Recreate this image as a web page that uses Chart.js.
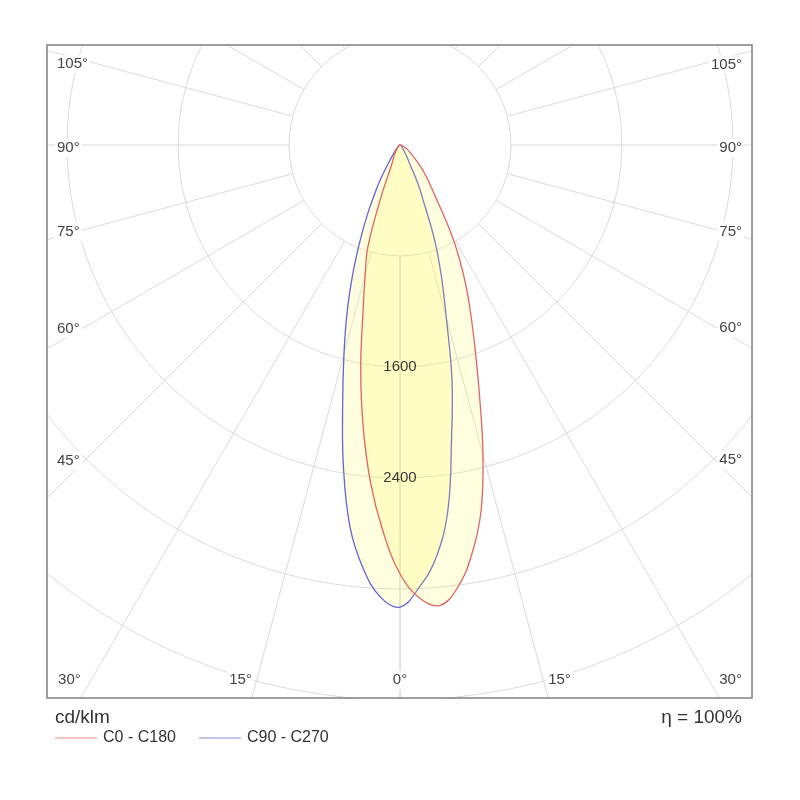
<!DOCTYPE html>
<html>
<head>
<meta charset="utf-8">
<script src="https://cdn.jsdelivr.net/npm/chart.js@4"></script>
<style>
  html, body { margin: 0; padding: 0; background: #fff; }
  #wrap { width: 800px; height: 800px; }
</style>
</head>
<body>
<div id="wrap"><canvas id="polar" width="800" height="800"></canvas></div>
<script>
// Diagrama polar de intensidad luminosa (cd/klm)

// angulos gamma (negativo = lado izquierdo)
const gammaAngles = [-90, -75, -60, -45, -40, -35, -30, -27.5, -25, -22.5, -20, -17.5, -15, -12.5, -10, -7.5, -5, -2.5,
                     0, 2.5, 5, 7.5, 10, 12.5, 15, 17.5, 20, 22.5, 25, 27.5, 30, 35, 40, 45, 60, 75, 90];

// C0 - C180 (rojo)
const c0c180 = [0, 5, 10, 20, 30, 50, 80, 100, 120, 170, 400, 770, 970, 1230, 1630, 2040, 2440, 2790,
                3090, 3270, 3330, 3210, 2990, 2700, 2310, 1910, 1590, 1340, 1130, 930, 740, 430, 290, 190, 60, 15, 0];

// C90 - C270 (azul)
const c90c270 = [0, 5, 10, 25, 50, 100, 270, 390, 560, 760, 1000, 1270, 1560, 1910, 2350, 2770, 3060, 3260,
                 3330, 3190, 2985, 2650, 2140, 1730, 1290, 990, 730, 450, 300, 150, 100, 50, 30, 20, 10, 5, 0];

const seriesNames = ['C0 - C180', 'C90 - C270'];
const seriesColors = ['#e06464', '#6464d8'];

// anillos y radios de la rejilla
const ringValues = [800, 1600, 2400, 3200, 4000, 4800];
const ringLabels = [1600, 2400];
const rayAngles = [0, 15, 30, 45, 60, 75, 90, 105, 120, 135, 150, 165, 180];
const rayLabels = [0, 15, 30, 45, 60, 75, 90, 105];

const unitLabel = 'cd/klm';
const efficiencyLabel = 'η = 100%';

// escala: 800 cd = 111 px, centro en (400,145)
const cdPerPx = 800 / 111;
const box = { left: 47, top: 45, right: 752, bottom: 698 };
const centre = { x: 400, y: 145 };

function toPoints(values) {
    return gammaAngles.map((g, i) => {
        const t = g * Math.PI / 180;
        return { x: values[i] * Math.sin(t), y: -values[i] * Math.cos(t) };
    });
}

const font = '"Liberation Sans", Arial, sans-serif';

const polarGrid = {
    id: 'polarGrid',
    beforeDatasetsDraw(chart) {
        const { ctx, chartArea: a, scales: { x, y } } = chart;
        const cx = x.getPixelForValue(0);
        const cy = y.getPixelForValue(0);
        const px = v => x.getPixelForValue(v) - cx;

        ctx.save();
        ctx.beginPath();
        ctx.rect(a.left, a.top, a.right - a.left, a.bottom - a.top);
        ctx.clip();
        ctx.strokeStyle = '#dadada';
        ctx.lineWidth = 1;

        // circulos
        ringValues.forEach(v => {
            ctx.beginPath();
            ctx.arc(cx, cy, px(v), 0, Math.PI * 2);
            ctx.stroke();
        });

        // radios desde el primer anillo
        const r0 = px(ringValues[0]);
        const r1 = px(ringValues[ringValues.length - 1]) * 2;
        rayAngles.forEach(d => {
            [-1, 1].forEach(s => {
                const t = d * Math.PI / 180;
                const dx = s * Math.sin(t), dy = Math.cos(t);
                ctx.beginPath();
                ctx.moveTo(cx + dx * r0, cy + dy * r0);
                ctx.lineTo(cx + dx * r1, cy + dy * r1);
                ctx.stroke();
            });
        });
        ctx.restore();
    },
    afterDatasetsDraw(chart) {
        const { ctx, chartArea: a, scales: { x, y } } = chart;
        const cx = x.getPixelForValue(0);
        const cy = y.getPixelForValue(0);
        const px = v => x.getPixelForValue(v) - cx;

        ctx.save();

        // etiquetas de intensidad
        ctx.font = '15px ' + font;
        ctx.fillStyle = '#383838';
        ctx.textAlign = 'center';
        ctx.textBaseline = 'middle';
        ringLabels.forEach(v => ctx.fillText(String(v), cx, cy + px(v)));

        // etiquetas de angulo
        ctx.font = '15px ' + font;
        rayLabels.forEach(d => {
            const sides = d === 0 ? [1] : [-1, 1];
            sides.forEach(s => {
                const t = d * Math.PI / 180;
                const sn = Math.sin(t), cs = Math.cos(t);
                const sideDist = s < 0 ? cx - a.left : a.right - cx;
                const tSide = sn > 0 ? sideDist / sn : Infinity;
                const tBottom = cs > 0 ? (a.bottom - cy) / cs : Infinity;
                let lx, ly, align;
                if (tBottom <= tSide) {
                    lx = cx + s * sn * tBottom;
                    ly = a.bottom - 18;
                    align = d === 0 ? 'center' : (s < 0 ? 'right' : 'left');
                } else {
                    const tt = (sideDist - 40) / sn;
                    ly = cy + cs * tt + 3;
                    lx = s < 0 ? a.left + 10 : a.right - 10;
                    align = s < 0 ? 'left' : 'right';
                }
                const txt = d + '°';
                const w = ctx.measureText(txt).width;
                const bx = align === 'left' ? lx : align === 'right' ? lx - w : lx - w / 2;
                ctx.fillStyle = '#ffffff';
                ctx.fillRect(bx - 2, ly - 9, w + 4, 18);
                ctx.fillStyle = '#444444';
                ctx.textAlign = align;
                ctx.fillText(txt, lx, ly);
            });
        });

        // marco
        ctx.strokeStyle = '#808080';
        ctx.lineWidth = 1.5;
        ctx.strokeRect(a.left, a.top, a.right - a.left, a.bottom - a.top);

        // unidades y rendimiento
        ctx.fillStyle = '#333333';
        ctx.font = '19px ' + font;
        ctx.textAlign = 'left';
        ctx.fillText(unitLabel, a.left + 8, a.bottom + 20);
        ctx.textAlign = 'right';
        ctx.fillText(efficiencyLabel, a.right - 10, a.bottom + 20);

        // leyenda
        ctx.font = '16px ' + font;
        ctx.textAlign = 'left';
        const legendY = a.bottom + 40;
        let lx = a.left + 8;
        chart.data.datasets.forEach(ds => {
            ctx.strokeStyle = ds.borderColor;
            ctx.lineWidth = 1;
            ctx.globalAlpha = 0.75;
            ctx.beginPath();
            ctx.moveTo(lx, legendY);
            ctx.lineTo(lx + 42, legendY);
            ctx.stroke();
            ctx.globalAlpha = 1;
            ctx.fillStyle = '#333333';
            ctx.fillText(ds.label, lx + 48, legendY);
            lx += 48 + ctx.measureText(ds.label).width + 23;
        });

        ctx.restore();
    }
};

const ctx = document.getElementById('polar').getContext('2d');
const chart = new Chart(ctx, {
    type: 'line',
    data: {
        datasets: [
            {
                label: seriesNames[0],
                data: toPoints(c0c180),
                borderColor: seriesColors[0],
                backgroundColor: 'rgba(255, 250, 60, 0.17)',
                borderWidth: 1.3,
                pointRadius: 0,
                tension: 0.4,
                fill: 'shape'
            },
            {
                label: seriesNames[1],
                data: toPoints(c90c270),
                borderColor: seriesColors[1],
                backgroundColor: 'rgba(255, 250, 60, 0.17)',
                borderWidth: 1.3,
                pointRadius: 0,
                tension: 0.4,
                fill: 'shape'
            }
        ]
    },
    options: {
        responsive: false,
        animation: false,
        devicePixelRatio: 1,
        layout: {
            padding: { left: box.left, top: box.top, right: 800 - box.right, bottom: 800 - box.bottom }
        },
        scales: {
            x: {
                type: 'linear',
                display: false,
                min: -(centre.x - box.left) * cdPerPx,
                max: (box.right - centre.x) * cdPerPx
            },
            y: {
                type: 'linear',
                display: false,
                min: -(box.bottom - centre.y) * cdPerPx,
                max: (centre.y - box.top) * cdPerPx
            }
        },
        plugins: {
            legend: { display: false },
            tooltip: { enabled: false }
        }
    },
    plugins: [polarGrid]
});
</script>
</body>
</html>
